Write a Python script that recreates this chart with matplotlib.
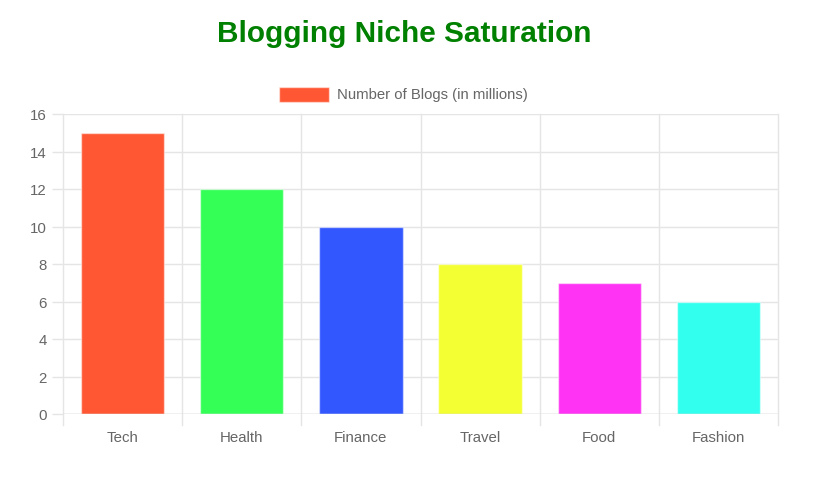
import matplotlib.pyplot as plt
import matplotlib.patches as mpatches
import numpy as np

# data
niches = ['Tech', 'Health', 'Finance', 'Travel', 'Food', 'Fashion']
blogs = [15, 12, 10, 8, 7, 6]
colors = ['#FF5733', '#33FF57', '#3357FF', '#F3FF33', '#FF33F3', '#33FFEE']
y_ticks = [0, 2, 4, 6, 8, 10, 12, 14, 16]

plt.rcParams['font.family'] = ['Liberation Sans', 'DejaVu Sans']

fig = plt.figure(figsize=(8.38, 4.81), dpi=100)
ax = fig.add_axes([63 / 838, 1 - 415 / 481, 715 / 838, 300 / 481])

x = np.arange(len(niches))
ax.bar(x, blogs, width=0.7, color=colors, edgecolor=(1, 1, 1, 0.5), linewidth=1, zorder=3)

ax.set_xlim(-0.5, len(niches) - 0.5)
ax.set_ylim(0, 16)
ax.set_yticks(y_ticks)
ax.set_xticks(x)
ax.set_xticklabels(niches)
ax.tick_params(axis='both', colors='#e5e5e5', labelcolor='#666666', labelsize=10.8, length=8, width=1)
ax.tick_params(axis='x', length=0, pad=11.5)

# vertical grid at category boundaries
for b in np.arange(-0.5, len(niches) + 0.5, 1):
    ax.axvline(b, color='#e5e5e5', lw=1, zorder=1, ymin=-0.035, clip_on=False)
for t in y_ticks:
    ax.axhline(t, color='#e5e5e5', lw=1, zorder=1)
for s in ax.spines.values():
    s.set_visible(False)
ax.axhline(0, color='#d0d0d0', lw=1, zorder=4)

fig.text(404 / 838, 1 - 34 / 481, 'Blogging Niche Saturation', ha='center', va='center',
         fontsize=21.4, fontweight='bold', color='#008000')

# legend
fig.patches.append(mpatches.Rectangle((279 / 838, 1 - 103 / 481), 50 / 838, 15 / 481,
                                      transform=fig.transFigure, facecolor='#FF5733',
                                      edgecolor=(1, 1, 1, 0.5), lw=1))
fig.text(337 / 838, 1 - 95.5 / 481, 'Number of Blogs (in millions)', ha='left', va='center',
         fontsize=10.7, color='#666666')

fig.savefig('out.png', dpi=100)
